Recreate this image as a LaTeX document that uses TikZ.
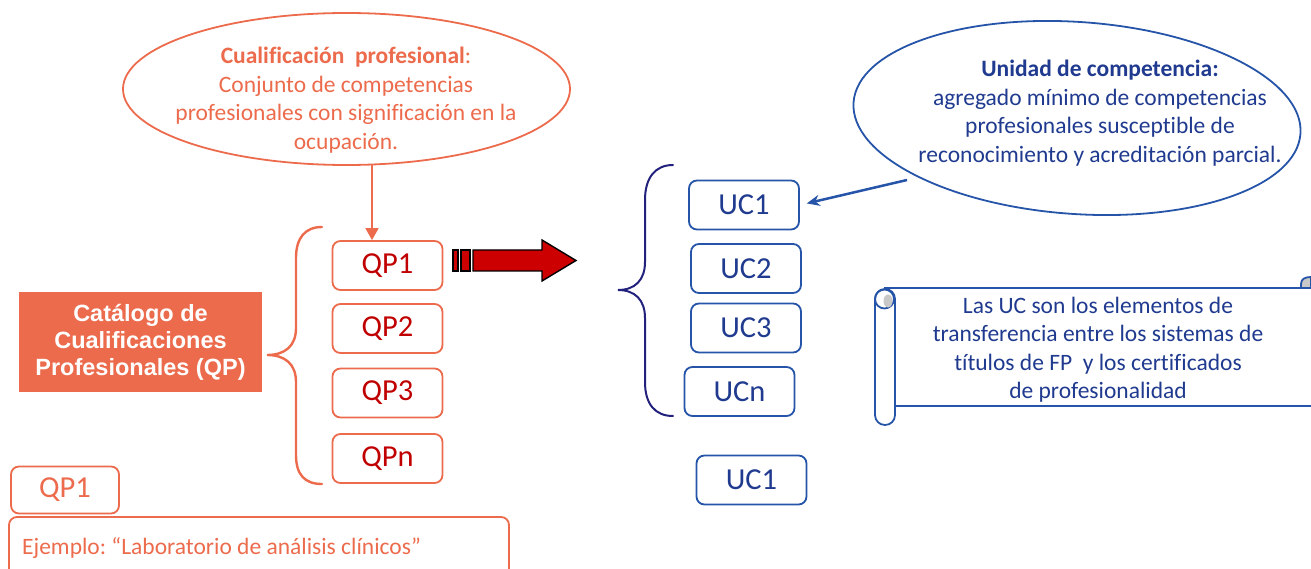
\documentclass[tikz,border=0pt]{standalone}
\usepackage{fontspec}
\setmainfont{Carlito}[Ligatures=CommonOff]
\newfontfamily\arialfont{Liberation Sans}
\usetikzlibrary{arrows.meta,shapes.geometric}
\definecolor{orng}{HTML}{EC6B4C}
\definecolor{qpred}{HTML}{C00000}
\definecolor{ucblue}{HTML}{2554A8}
\definecolor{uctext}{HTML}{1F3A8F}
\definecolor{bracenavy}{HTML}{22227E}
\definecolor{arrred}{HTML}{CC0000}
\definecolor{curlgray}{HTML}{C8C8C8}
\begin{document}
\begin{tikzpicture}[x=1pt,y=-1pt,
  qpbox/.style={draw=orng, line width=1.8pt, rounded corners=8pt, minimum width=110pt, minimum height=49pt, inner sep=0pt, text=qpred, font=\fontsize{30.5}{34}\selectfont},
  ucbox/.style={draw=ucblue, line width=1.8pt, rounded corners=8pt, minimum width=110pt, minimum height=49pt, inner sep=0pt, text=uctext, font=\fontsize{30.5}{34}\selectfont},
  txt/.style={align=center, inner sep=0pt, font=\fontsize{23.5}{28.5}\selectfont},
  bracestyle/.style={line width=2.4pt, line cap=round},
  scrollline/.style={draw=ucblue, line width=1.8pt},
  stripe/.style={fill=arrred, draw=black, line width=1.4pt, line join=miter}
  ]
\useasboundingbox (0,0) rectangle (1311,569);
\clip (0,0) rectangle (1311,569);

% ---------- top-left ellipse ----------
\node[ellipse, draw=orng, line width=1.8pt, minimum width=447pt, minimum height=152pt, inner sep=0pt] (cpE) at (346.5,89) {};
\node[txt, text=orng] (cpT) at (346,100) {{\bfseries Cualificación~ profesional}:\\Conjunto de competencias\\profesionales con significación en la\\ocupación.};

% ---------- QP boxes ----------
\node[qpbox] (qp1) at (387.5,265.5) {QP1};
\node[qpbox] (qp2) at (387.5,328.5) {QP2};
\node[qpbox] (qp3) at (387.5,393) {QP3};
\node[qpbox] (qpn) at (387.5,458.5) {QPn};

\coordinate (arrS) at (372,165);
\draw[orng, line width=1.8pt, -{Triangle[length=12pt,width=13pt]}] (arrS) -- (qp1.north -| arrS);

% ---------- catalogue box ----------
\node[fill=orng, minimum width=243pt, minimum height=100pt, inner sep=0pt, text=white, align=center,
      font=\arialfont\bfseries\fontsize{23.5}{27}\selectfont] (cat) at (140.5,342) {Catálogo de\\Cualificaciones\\Profesionales (QP)};

% orange brace
\draw[orng, bracestyle] (322,227) .. controls (305,227) and (296,238) .. (296,258) -- (296,328)
  .. controls (296,346) and (285,355) .. (267,355)
  .. controls (285,355) and (296,364) .. (296,382) -- (296,455)
  .. controls (296,475) and (305,484) .. (322,484);

% ---------- bottom-left example ----------
\node[draw=orng, line width=1.8pt, rounded corners=8pt, minimum width=108pt, minimum height=47pt, inner sep=0pt,
      text=orng, font=\fontsize{30.5}{34}\selectfont] (qpex) at (65,490) {QP1};
\node[draw=orng, line width=1.8pt, rounded corners=8pt, minimum width=500pt, minimum height=80pt, inner sep=0pt] (exbox) at (259,557) {};
\node[anchor=west, inner sep=0pt, text=orng, font=\fontsize{23.5}{28.5}\selectfont] (exT) at (22,548) {Ejemplo:~“Laboratorio de análisis clínicos”};

% ---------- striped red arrow ----------
\fill[stripe] (453,250) rectangle (458,271);
\fill[stripe] (461,250) rectangle (470,271);
\filldraw[stripe] (473,250) -- (542,250) -- (542,240) -- (576,260.5) -- (542,281) -- (542,271) -- (473,271) -- cycle;

% ---------- UC boxes ----------
\node[ucbox] (uc1) at (744,205) {UC1};
\node[ucbox] (uc2) at (746,268.5) {UC2};
\node[ucbox] (uc3) at (746,328) {UC3};
\node[ucbox] (ucn) at (739.5,391.5) {UCn};
\node[ucbox] (uc1b) at (751.5,480) {UC1};

% blue brace
\draw[bracenavy, line width=2pt, line cap=round] (673,165) .. controls (655,165) and (645,178) .. (645,200) -- (645,262)
  .. controls (645,280) and (635,290) .. (618,290)
  .. controls (635,290) and (645,300) .. (645,318) -- (645,382)
  .. controls (645,404) and (655,416) .. (673,416);

% ---------- blue ellipse ----------
\node[ellipse, draw=ucblue, line width=1.8pt, minimum width=448pt, minimum height=192pt, inner sep=0pt, rotate=-4] (ucE) at (1077,118) {};
\node[txt, text=uctext] (ucT) at (1100,113) {{\bfseries Unidad de competencia:}\\agregado mínimo de competencias\\profesionales susceptible de\\reconocimiento y acreditación parcial.};
\coordinate (bs) at (907,180);
\draw[ucblue, line width=2.5pt, -{Stealth[length=13pt,width=11pt]}, shorten >=7pt] (bs) -- (uc1.east);

% ---------- scroll ----------
\draw[scrollline] (884,288) -- (1311,288);
\draw[scrollline] (895,406) -- (1311,406);
\draw[scrollline, fill=white, rounded corners=9.9pt] (875,289) rectangle (895,425);
\draw[scrollline] (884.5,299) ellipse [x radius=9.5, y radius=9.5];
\fill[curlgray] (888,301) ellipse [x radius=4.5, y radius=6.5];
\filldraw[scrollline, fill=curlgray] (1301,288) -- (1301,284) .. controls (1301,279) and (1305,277) .. (1311,277) -- (1311,288) -- cycle;
\node[txt, text=uctext] (scT) at (1098,349.5) {Las UC son los elementos de\\transferencia entre los sistemas de\\títulos de FP~ y los certificados\\de profesionalidad};
\end{tikzpicture}
\end{document}
